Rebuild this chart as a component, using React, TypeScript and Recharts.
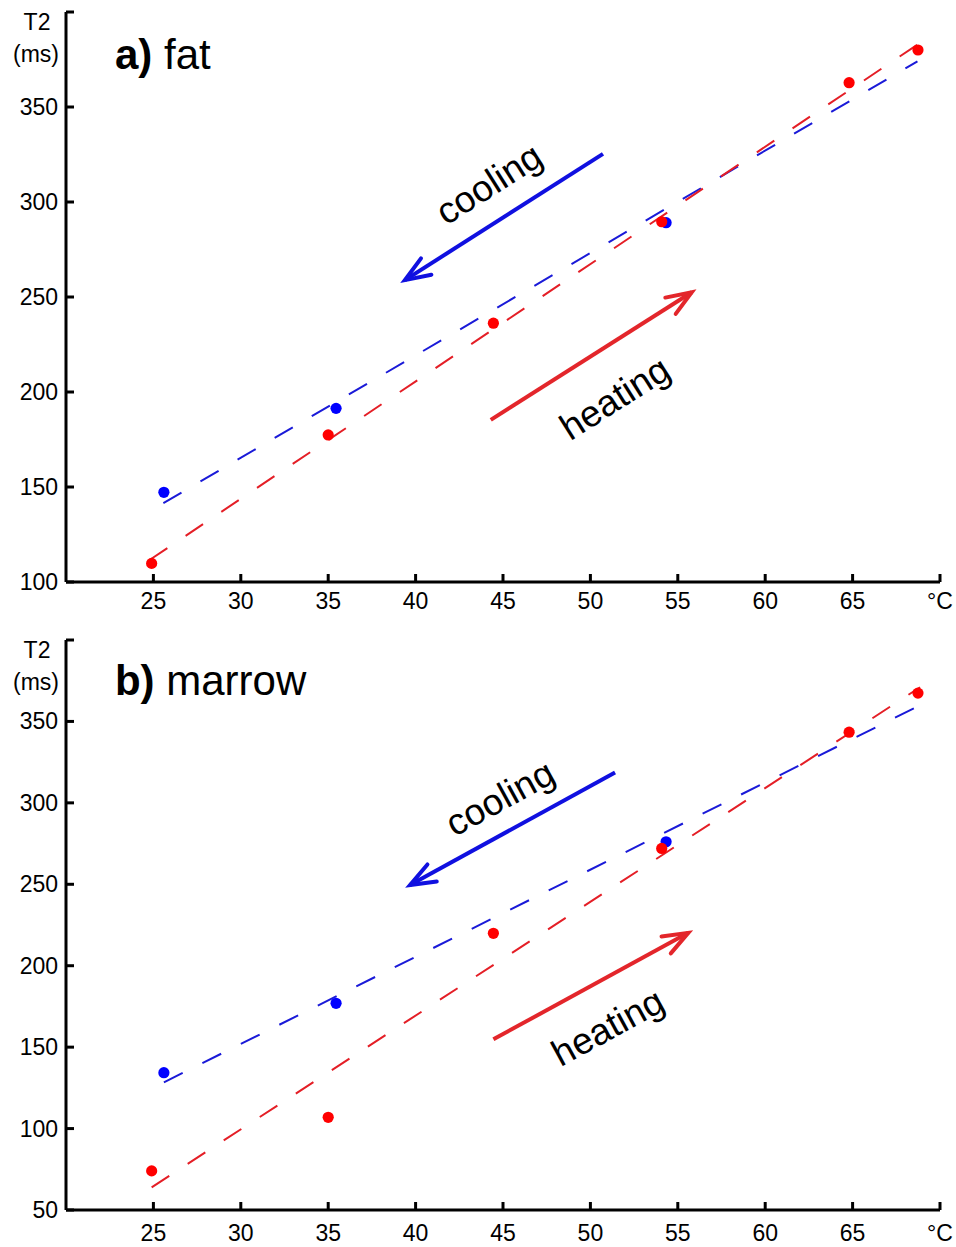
import React from 'react';
import { ComposedChart, Line, Scatter, XAxis, YAxis } from 'recharts';

// ---------- data ----------
const xTicks = [25, 30, 35, 40, 45, 50, 55, 60, 65, 70];
const yTicksFat = [100, 150, 200, 250, 300, 350, 400];
const yTicksMarrow = [50, 100, 150, 200, 250, 300, 350, 400];

const fatHeating = [
  { x: 24.9, y: 109.8 },
  { x: 35.0, y: 177.4 },
  { x: 44.45, y: 236.2 },
  { x: 54.08, y: 289.6 },
  { x: 64.8, y: 362.8 },
  { x: 68.74, y: 380 },
];
const fatCooling = [
  { x: 25.6, y: 147.2 },
  { x: 35.45, y: 191.4 },
  { x: 54.33, y: 289.1 },
];
const fatHeatingFit = [
  { x: 24.8, y: 111.7 },
  { x: 68.83, y: 383.6 },
];
const fatCoolingFit = [
  { x: 25.57, y: 141.5 },
  { x: 68.71, y: 374 },
];

const marrowHeating = [
  { x: 24.9, y: 74 },
  { x: 35.0, y: 106.9 },
  { x: 44.45, y: 219.9 },
  { x: 54.08, y: 272 },
  { x: 64.8, y: 343.4 },
  { x: 68.74, y: 367.4 },
];
const marrowCooling = [
  { x: 25.6, y: 134.3 },
  { x: 35.45, y: 176.9 },
  { x: 54.33, y: 276.1 },
];
const marrowHeatingFit = [
  { x: 24.9, y: 63.9 },
  { x: 68.86, y: 371 },
];
const marrowCoolingFit = [
  { x: 25.6, y: 128.4 },
  { x: 68.74, y: 359.3 },
];

// annotation arrows (tail -> tip), in data coordinates
const fatCoolArrow = [
  { x: 50.72, y: 325.3 },
  { x: 39.39, y: 258.9 },
];
const fatHeatArrow = [
  { x: 44.3, y: 185.3 },
  { x: 55.8, y: 252.5 },
];
const marrowCoolArrow = [
  { x: 51.41, y: 318.7 },
  { x: 39.68, y: 249.5 },
];
const marrowHeatArrow = [
  { x: 44.45, y: 154.8 },
  { x: 55.6, y: 220.2 },
];

// text annotations
const fatLabels = [
  { x: 44.2, y: 309.5, text: 'cooling', angle: -32.5 },
  { x: 51.4, y: 196.8, text: 'heating', angle: -32.4 },
];
const marrowLabels = [
  { x: 44.83, y: 302.9, text: 'cooling', angle: -28.7 },
  { x: 51.0, y: 162.3, text: 'heating', angle: -28.6 },
];
const fatTitle = [{ x: 22.8, y: 370, bold: 'a)', text: ' fat' }];
const marrowTitle = [{ x: 22.8, y: 366.1, bold: 'b)', text: ' marrow' }];

// ---------- styles ----------
const FONT = '"Liberation Sans", Arial, Helvetica, sans-serif';
const RED_DOT = '#ff0000';
const BLUE_DOT = '#0000ff';
const RED_LINE = '#e41e26';
const BLUE_LINE = '#1a1ad8';
const RED_ARROW = '#e3262b';
const BLUE_ARROW = '#1010e0';

function makeArrowDot(color: string) {
  let tail: { x: number; y: number } | null = null;
  return (props: any) => {
    const { cx, cy, index, points } = props;
    if (index === 0) {
      tail = { x: cx, y: cy };
      return <g key={`ad-${index}`} />;
    }
    const p0 = points && points[0] ? points[0] : tail;
    if (!p0) return <g key={`ad-${index}`} />;
    const ang = Math.atan2(cy - p0.y, cx - p0.x);
    const L = 27;
    const a = (21 * Math.PI) / 180;
    const x1 = cx - L * Math.cos(ang - a);
    const y1 = cy - L * Math.sin(ang - a);
    const x2 = cx - L * Math.cos(ang + a);
    const y2 = cy - L * Math.sin(ang + a);
    return (
      <path
        key={`ad-${index}`}
        d={`M${x1},${y1}L${cx},${cy}L${x2},${y2}`}
        stroke={color}
        strokeWidth={4}
        fill="none"
        strokeLinecap="round"
        strokeLinejoin="miter"
      />
    );
  };
}

const dotShape = (color: string) => (p: any) =>
  <circle cx={p.cx} cy={p.cy} r={5.6} fill={color} stroke="none" />;

const labelShape = (p: any) => {
  const d = p.payload;
  return (
    <text
      x={p.cx}
      y={p.cy}
      textAnchor="middle"
      dominantBaseline="central"
      fontFamily={FONT}
      fontSize={37}
      fill="#000"
      transform={`rotate(${d.angle} ${p.cx} ${p.cy})`}
    >
      {d.text}
    </text>
  );
};

const titleShape = (p: any) => {
  const d = p.payload;
  return (
    <text x={p.cx} y={p.cy} textAnchor="start" fontFamily={FONT} fontSize={42} fill="#000">
      <tspan fontWeight="bold">{d.bold}</tspan>
      <tspan>{d.text}</tspan>
    </text>
  );
};

const makeXTick = (labelOffset: number) => (props: any) => {
  const { x, y, payload } = props;
  const v = payload.value;
  return (
    <g>
      <line x1={x} x2={x} y1={y} y2={y - 8} stroke="#000" strokeWidth={3} />
      <text x={x} y={y + labelOffset} textAnchor="middle" fontFamily={FONT} fontSize={23} fill="#000">
        {v === 70 ? '°C' : v}
      </text>
    </g>
  );
};

const makeYTick = (top: number) => (props: any) => {
  const { x, y, payload } = props;
  const v = payload.value;
  return (
    <g>
      <line x1={x} x2={x + 8} y1={y} y2={y} stroke="#000" strokeWidth={3} />
      {v === top ? (
        <text textAnchor="middle" fontFamily={FONT} fontSize={23} fill="#000">
          <tspan x={x - 29} y={y + 18}>T2</tspan>
          <tspan x={x - 30} y={y + 50}>(ms)</tspan>
        </text>
      ) : (
        <text x={x - 8} y={y + 8} textAnchor="end" fontFamily={FONT} fontSize={23} fill="#000">
          {v}
        </text>
      )}
    </g>
  );
};

type PanelProps = {
  height: number;
  xAxisHeight: number;
  labelOffset: number;
  yDomain: [number, number];
  yTicks: number[];
  heating: any[];
  cooling: any[];
  heatingFit: any[];
  coolingFit: any[];
  coolArrow: any[];
  heatArrow: any[];
  labels: any[];
  title: any[];
};

function Panel(p: PanelProps) {
  return (
    <ComposedChart
      width={956}
      height={p.height}
      margin={{ top: 12, right: 16, bottom: 7, left: 0 }}
    >
      <XAxis
        type="number"
        dataKey="x"
        domain={[20, 70]}
        ticks={xTicks}
        interval={0}
        allowDataOverflow
        height={p.xAxisHeight}
        tickSize={0}
        tickMargin={0}
        tickLine={false}
        axisLine={{ stroke: '#000', strokeWidth: 3 }}
        tick={makeXTick(p.labelOffset)}
      />
      <YAxis
        type="number"
        dataKey="y"
        domain={p.yDomain}
        ticks={p.yTicks}
        interval={0}
        allowDataOverflow
        width={66}
        tickSize={0}
        tickMargin={0}
        tickLine={false}
        axisLine={{ stroke: '#000', strokeWidth: 3 }}
        tick={makeYTick(p.yDomain[1])}
      />
      <Line
        data={p.coolingFit}
        dataKey="y"
        stroke={BLUE_LINE}
        strokeWidth={2}
        strokeDasharray="21 22"
        dot={false}
        activeDot={false}
        isAnimationActive={false}
      />
      <Line
        data={p.heatingFit}
        dataKey="y"
        stroke={RED_LINE}
        strokeWidth={2}
        strokeDasharray="21 22"
        dot={false}
        activeDot={false}
        isAnimationActive={false}
      />
      <Scatter data={p.cooling} dataKey="y" shape={dotShape(BLUE_DOT)} isAnimationActive={false} />
      <Scatter data={p.heating} dataKey="y" shape={dotShape(RED_DOT)} isAnimationActive={false} />
      <Line
        data={p.coolArrow}
        dataKey="y"
        stroke={BLUE_ARROW}
        strokeWidth={4}
        dot={makeArrowDot(BLUE_ARROW)}
        activeDot={false}
        isAnimationActive={false}
      />
      <Line
        data={p.heatArrow}
        dataKey="y"
        stroke={RED_ARROW}
        strokeWidth={4}
        dot={makeArrowDot(RED_ARROW)}
        activeDot={false}
        isAnimationActive={false}
      />
      <Scatter data={p.labels} dataKey="y" shape={labelShape} isAnimationActive={false} />
      <Scatter data={p.title} dataKey="y" shape={titleShape} isAnimationActive={false} />
    </ComposedChart>
  );
}

export default function App() {
  return (
    <div
      style={{
        position: 'absolute',
        left: 0,
        top: 0,
        width: 956,
        height: 1247,
        overflow: 'hidden',
        background: '#fff',
      }}
    >
      <div style={{ position: 'absolute', left: 0, top: 0 }}>
        <Panel
          height={625}
          xAxisHeight={36}
          labelOffset={27}
          yDomain={[100, 400]}
          yTicks={yTicksFat}
          heating={fatHeating}
          cooling={fatCooling}
          heatingFit={fatHeatingFit}
          coolingFit={fatCoolingFit}
          coolArrow={fatCoolArrow}
          heatArrow={fatHeatArrow}
          labels={fatLabels}
          title={fatTitle}
        />
      </div>
      <div style={{ position: 'absolute', left: 0, top: 628 }}>
        <Panel
          height={619}
          xAxisHeight={30}
          labelOffset={31}
          yDomain={[50, 400]}
          yTicks={yTicksMarrow}
          heating={marrowHeating}
          cooling={marrowCooling}
          heatingFit={marrowHeatingFit}
          coolingFit={marrowCoolingFit}
          coolArrow={marrowCoolArrow}
          heatArrow={marrowHeatArrow}
          labels={marrowLabels}
          title={marrowTitle}
        />
      </div>
    </div>
  );
}
